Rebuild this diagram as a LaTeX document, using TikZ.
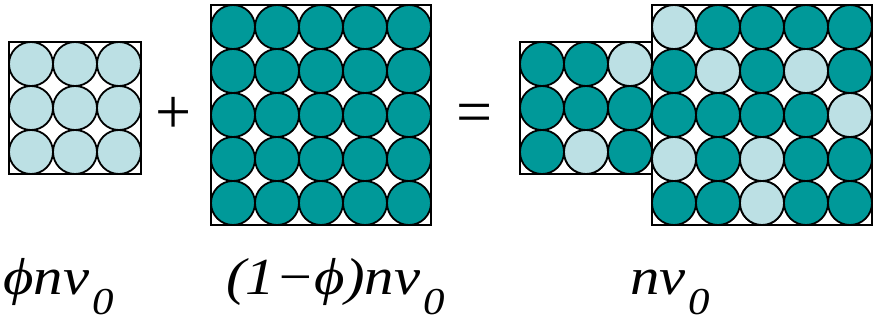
\documentclass[tikz,border=0pt]{standalone}
\usepackage{fontspec}
\setmainfont{Liberation Serif}
\newfontfamily\labelfont[FakeStretch=1.13]{Liberation Serif}
\definecolor{tealfill}{RGB}{0,153,153}
\definecolor{lightfill}{RGB}{188,224,228}
\newcommand{\lowsub}[1]{\hspace{3pt}\raisebox{-20pt}{\fontsize{38}{40}\selectfont #1}}
\tikzset{
  ball/.style={draw=black, line width=1.8pt},
  cellbox/.style={draw=black, line width=1.8pt},
  eqlabel/.style={anchor=base west, inner sep=0pt, font=\labelfont\fontsize{52}{60}\selectfont\itshape},
  opsign/.style={anchor=center, inner sep=0pt, font=\fontsize{64}{70}\selectfont},
}
\begin{document}
\begin{tikzpicture}[x=1pt,y=-1pt]
\useasboundingbox (0,0) rectangle (873,321);
% light spheres, 3x3
\foreach \i in {0,1,2} \foreach \j in {0,1,2}
  \filldraw[ball, fill=lightfill] (9+22+44*\i, 42+22+44*\j) circle (22pt);
\draw[cellbox] (9,42) rectangle ++(132,132);
% dark spheres, 5x5
\foreach \i in {0,...,4} \foreach \j in {0,...,4}
  \filldraw[ball, fill=tealfill] (211+22+44*\i, 5+22+44*\j) circle (22pt);
\draw[cellbox] (211,5) rectangle ++(220,220);
% mixture: small box
\foreach \i in {0,1,2} \foreach \j in {0,1,2}
  \filldraw[ball, fill=tealfill] (520+22+44*\i, 42+22+44*\j) circle (22pt);
\foreach \i/\j in {2/0, 1/2}
  \filldraw[ball, fill=lightfill] (520+22+44*\i, 42+22+44*\j) circle (22pt);
\draw[cellbox] (520,42) rectangle ++(132,132);
% mixture: big box
\foreach \i in {0,...,4} \foreach \j in {0,...,4}
  \filldraw[ball, fill=tealfill] (652+22+44*\i, 5+22+44*\j) circle (22pt);
\foreach \i/\j in {0/0, 1/1, 3/1, 4/2, 0/3, 2/3, 2/4}
  \filldraw[ball, fill=lightfill] (652+22+44*\i, 5+22+44*\j) circle (22pt);
\draw[cellbox] (652,5) rectangle ++(220,220);
% signs and labels
\node[opsign] (plus) at (174,115) {+};
\node[opsign] (equals) at (475,119) {=};
\node[eqlabel] (lblphi) at (3,294) {ϕnv\lowsub{0}};
\node[eqlabel] (lblrest) at (226,294) {(1−ϕ)nv\lowsub{0}};
\node[eqlabel] (lbltotal) at (630,294) {nv\lowsub{0}};
\end{tikzpicture}
\end{document}
